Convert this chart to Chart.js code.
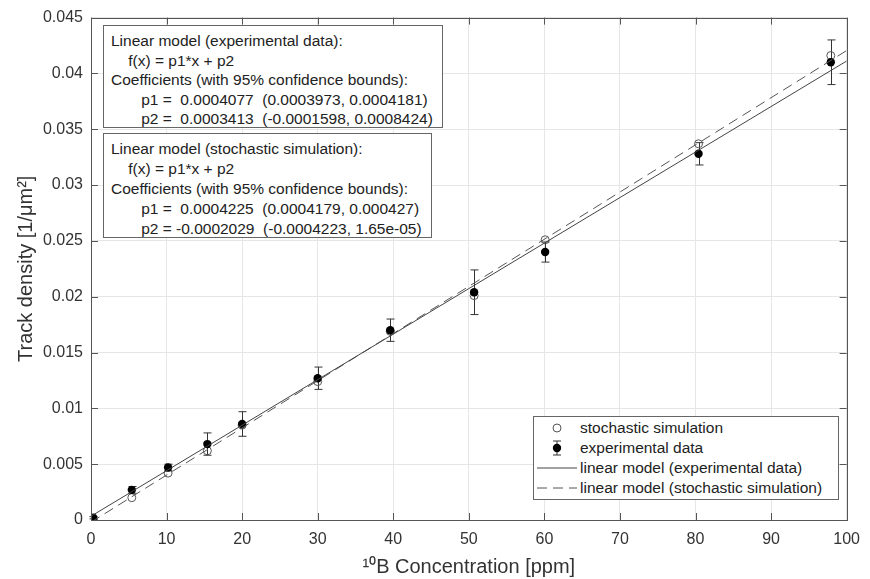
<!DOCTYPE html>
<html>
<head>
<meta charset="utf-8">
<script src="https://cdn.jsdelivr.net/npm/chart.js@4/dist/chart.umd.min.js"></script>
<style>
  body { margin: 0; background: #fff; }
  #wrap { position: relative; width: 870px; height: 579px; font-family: "Liberation Sans", Arial, Helvetica, sans-serif; color: #222; }
  .note { position: absolute; left: 103px; box-sizing: border-box; border: 1px solid #666; background: #fff;
          font-size: 15.5px; white-space: pre; padding: 5px 9px 0 7px; }
  #legend { position: absolute; left: 533px; top: 416px; width: 306px; height: 84px; box-sizing: border-box;
            border: 1px solid #666; background: #fff; padding-top: 1px; font-size: 15.5px; }
  #legend .row { display: flex; align-items: center; height: 20px; line-height: 20px; white-space: nowrap; }
  #legend svg { flex: none; }
</style>
</head>
<body>
<div id="wrap">
  <canvas id="chart" width="870" height="579"></canvas>
  <div class="note" style="top:25px;height:103px;line-height:19.5px;">Linear model (experimental data):
    f(x) = p1*x + p2
Coefficients (with 95% confidence bounds):
       p1 =  0.0004077  (0.0003973, 0.0004181)
       p2 =  0.0003413  (-0.0001598, 0.0008424)</div>
  <div class="note" style="top:133px;height:105px;line-height:20px;">Linear model (stochastic simulation):
    f(x) = p1*x + p2
Coefficients (with 95% confidence bounds):
       p1 =  0.0004225  (0.0004179, 0.000427)
       p2 = -0.0002029  (-0.0004223, 1.65e-05)</div>
  <div id="legend">
    <div class="row"><svg width="46" height="20"><circle cx="23" cy="10" r="4" fill="none" stroke="#555" stroke-width="1"/></svg>stochastic simulation</div>
    <div class="row"><svg width="46" height="20"><path d="M23 3V17M19 3H27M19 17H27" stroke="#333" stroke-width="1" fill="none"/><circle cx="23" cy="10" r="4.2" fill="#000"/></svg>experimental data</div>
    <div class="row"><svg width="46" height="20"><path d="M3 10H43" stroke="#444" stroke-width="1"/></svg>linear model (experimental data)</div>
    <div class="row"><svg width="46" height="20"><path d="M3 10H43" stroke="#555" stroke-width="1" stroke-dasharray="10,6"/></svg>linear model (stochastic simulation)</div>
  </div>
</div>
<script>
// 10B concentration [ppm]
const concentration = [0.3, 5.4, 10.2, 15.4, 20.0, 30.0, 39.6, 50.7, 60.1, 80.4, 97.9];
// experimental track density and its error (half bar)
const expDensity = [0.0002, 0.0027, 0.0047, 0.0068, 0.0086, 0.0127, 0.0170, 0.0204, 0.0240, 0.0328, 0.0410];
const expError = [0.0001, 0.0003, 0.0003, 0.0010, 0.0011, 0.0010, 0.0010, 0.0020, 0.0009, 0.0010, 0.0020];
// stochastic simulation
const simDensity = [0.0000, 0.0020, 0.0042, 0.0062, 0.0085, 0.0124, 0.0169, 0.0201, 0.0251, 0.0337, 0.0416];
// fitted lines, read at both ends of the axis
const fitX = [0, 100];
const expFit = [0.00034, 0.04111];
const simFit = [-0.0002, 0.04205];

const pts = (xa, ya) => xa.map((x, i) => ({ x: x, y: ya[i] }));

Chart.defaults.font.family = '"Liberation Sans", Arial, Helvetica, sans-serif';
Chart.defaults.color = '#333';

// vertical error bars for the experimental data
const errorBars = {
  id: 'errorBars',
  beforeDatasetsDraw(chart) {
    const ctx = chart.ctx, xs = chart.scales.x, ys = chart.scales.y;
    ctx.save();
    ctx.strokeStyle = '#333';
    ctx.lineWidth = 1;
    concentration.forEach((c, i) => {
      const px = Math.round(xs.getPixelForValue(c)) + 0.5;
      const top = ys.getPixelForValue(expDensity[i] + expError[i]);
      const bot = ys.getPixelForValue(expDensity[i] - expError[i]);
      ctx.beginPath();
      ctx.moveTo(px, top); ctx.lineTo(px, bot);
      ctx.moveTo(px - 4, top); ctx.lineTo(px + 4, top);
      ctx.moveTo(px - 4, bot); ctx.lineTo(px + 4, bot);
      ctx.stroke();
    });
    ctx.restore();
  }
};

// matlab style box with inward ticks
const axesBox = {
  id: 'axesBox',
  afterDatasetsDraw(chart) {
    const ctx = chart.ctx, a = chart.chartArea;
    const xs = chart.scales.x, ys = chart.scales.y;
    ctx.save();
    ctx.strokeStyle = '#555';
    ctx.lineWidth = 1;
    ctx.beginPath();
    xs.ticks.forEach(t => {
      const px = Math.round(xs.getPixelForValue(t.value)) + 0.5;
      ctx.moveTo(px, a.bottom); ctx.lineTo(px, a.bottom - 7);
      ctx.moveTo(px, a.top); ctx.lineTo(px, a.top + 7);
    });
    ys.ticks.forEach(t => {
      const py = Math.round(ys.getPixelForValue(t.value)) + 0.5;
      ctx.moveTo(a.left, py); ctx.lineTo(a.left + 7, py);
      ctx.moveTo(a.right, py); ctx.lineTo(a.right - 7, py);
    });
    ctx.stroke();
    ctx.strokeRect(Math.round(a.left) + 0.5, Math.round(a.top) + 0.5,
      Math.round(a.right - a.left), Math.round(a.bottom - a.top));
    ctx.restore();
  }
};

new Chart(document.getElementById('chart'), {
  type: 'scatter',
  data: {
    datasets: [
      {
        label: 'linear model (experimental data)',
        data: pts(fitX, expFit),
        showLine: true, pointRadius: 0,
        borderColor: '#444', borderWidth: 1, order: 0
      },
      {
        label: 'linear model (stochastic simulation)',
        data: pts(fitX, simFit),
        showLine: true, pointRadius: 0,
        borderColor: '#555', borderWidth: 1, borderDash: [10, 6], order: 1
      },
      {
        label: 'experimental data',
        data: pts(concentration, expDensity),
        pointRadius: 4.2, backgroundColor: '#000', borderColor: '#000', borderWidth: 0, order: 2
      },
      {
        label: 'stochastic simulation',
        data: pts(concentration, simDensity),
        pointRadius: 4, backgroundColor: 'rgba(0,0,0,0)', borderColor: '#555', borderWidth: 1, order: 3
      }
    ]
  },
  options: {
    responsive: false,
    animation: false,
    devicePixelRatio: 1,
    layout: { padding: { left: 0, right: 17, top: 16, bottom: 0 } },
    plugins: { legend: { display: false }, tooltip: { enabled: false } },
    scales: {
      x: {
        type: 'linear', min: 0, max: 100,
        afterFit(s) { s.height = 59; },
        border: { display: false },
        grid: { color: '#e6e6e6', drawTicks: false },
        ticks: { stepSize: 10, padding: 10, maxRotation: 0, font: { size: 16 }, color: '#333' },
        title: { display: true, text: '¹⁰B Concentration [ppm]', color: '#333', font: { size: 20 }, padding: { top: 0, bottom: 0 } }
      },
      y: {
        type: 'linear', min: 0, max: 0.045,
        afterFit(s) { s.width = 91; },
        border: { display: false },
        grid: { color: '#e6e6e6', drawTicks: false },
        ticks: { stepSize: 0.005, padding: 8, font: { size: 16 }, color: '#333',
                 callback: v => String(+v.toFixed(4)) },
        title: { display: true, text: 'Track density [1/μm²]', color: '#333', font: { size: 20 }, padding: { top: 14, bottom: 0 } }
      }
    }
  },
  plugins: [errorBars, axesBox]
});
</script>
</body>
</html>
